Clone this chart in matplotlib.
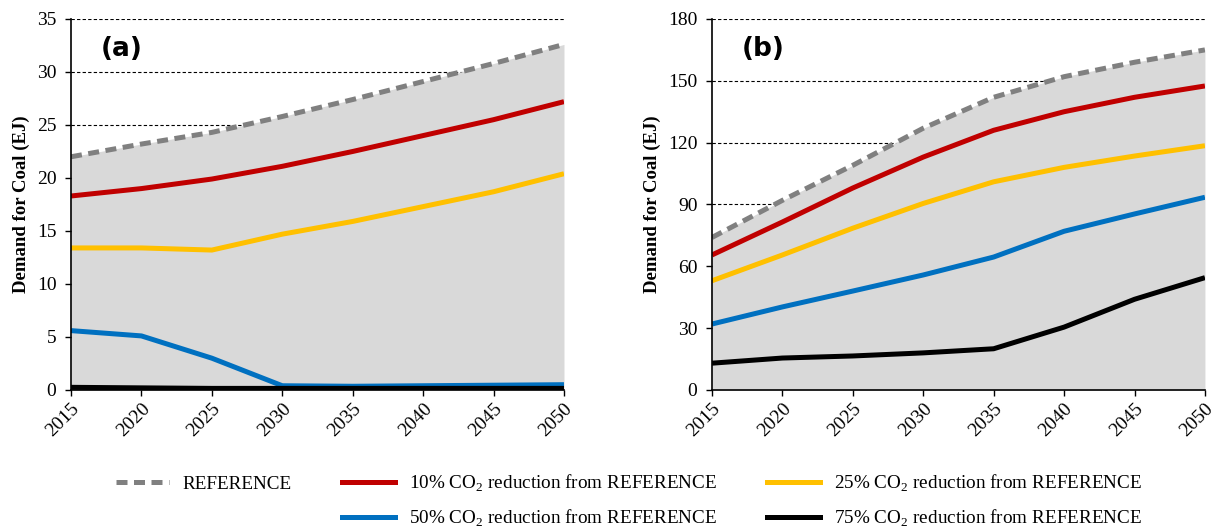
import matplotlib.pyplot as plt
from matplotlib.lines import Line2D

years = [2015, 2020, 2025, 2030, 2035, 2040, 2045, 2050]

# panel (a)
a_ref = [22.0, 23.2, 24.3, 25.8, 27.4, 29.1, 30.8, 32.6]
a_10 = [18.3, 19.0, 19.9, 21.1, 22.5, 24.0, 25.5, 27.2]
a_25 = [13.4, 13.4, 13.2, 14.7, 15.9, 17.3, 18.7, 20.4]
a_50 = [5.6, 5.1, 3.0, 0.4, 0.35, 0.4, 0.45, 0.5]
a_75 = [0.25, 0.2, 0.15, 0.15, 0.15, 0.15, 0.15, 0.15]

# panel (b)
b_ref = [74, 92, 109, 127, 142, 152, 159, 165]
b_10 = [65.5, 81.5, 98, 113, 126, 135, 142, 147.5]
b_25 = [53, 65.5, 78.5, 90.5, 101, 108, 113.5, 118.5]
b_50 = [32, 40.3, 48, 55.8, 64.5, 77, 85.4, 93.5]
b_75 = [13, 15.5, 16.5, 18, 20, 30.5, 44, 54.5]

labels = ["REFERENCE",
          "10% CO$_2$ reduction from REFERENCE",
          "25% CO$_2$ reduction from REFERENCE",
          "50% CO$_2$ reduction from REFERENCE",
          "75% CO$_2$ reduction from REFERENCE"]
colors = ["#808080", "#C00000", "#FFC000", "#0070C0", "#000000"]

plt.rcParams["font.family"] = "Liberation Serif"
plt.rcParams["mathtext.fontset"] = "custom"
plt.rcParams["mathtext.rm"] = "Liberation Serif"

fig = plt.figure(figsize=(12.16, 5.27), dpi=100)
ax1 = fig.add_axes([0.0584, 0.26, 0.4054, 0.704])
ax2 = fig.add_axes([0.5855, 0.26, 0.4054, 0.704])


def draw(ax, series, ymax, step, tag):
    ref = series[0]
    ax.fill_between(years, 0, ref, color="#D9D9D9", zorder=1, lw=0)
    for i, (vals, c) in enumerate(zip(series, colors)):
        ls = (0, (2.2, 1.3)) if i == 0 else "-"
        ax.plot(years, vals, color=c, lw=3.6, ls=ls, zorder=3 + i,
                solid_capstyle="butt")
    ax.set_xlim(2015, 2050)
    ax.set_ylim(0, ymax)
    ax.set_xticks(years)
    ax.set_xticklabels([str(y) for y in years], rotation=45, ha="right",
                       rotation_mode="anchor")
    ax.set_yticks(range(0, ymax + 1, step))
    for t in range(step, ymax + 1, step):
        ax.axhline(t, color="black", lw=0.8, ls=(0, (3, 2)), zorder=0.5)
    ax.tick_params(labelsize=14, length=4.5, width=1, direction="out")
    ax.tick_params(axis="y", pad=6)
    ax.tick_params(axis="x", pad=3)
    for s in ["top", "right"]:
        ax.spines[s].set_visible(False)
    for s in ["left", "bottom"]:
        ax.spines[s].set_linewidth(1.2)
        ax.spines[s].set_zorder(10)
    ax.set_ylabel("Demand for Coal (EJ)", fontsize=13.5, fontweight="bold",
                  labelpad=5)
    ax.text(0.06, 0.92, tag, transform=ax.transAxes, fontsize=19,
            fontweight="bold", family="DejaVu Sans", va="center")


draw(ax1, [a_ref, a_10, a_25, a_50, a_75], 35, 5, "(a)")
draw(ax2, [b_ref, b_10, b_25, b_50, b_75], 180, 30, "(b)")

handles = [Line2D([], [], color=c, lw=3.6,
                  ls=(0, (2.2, 1.3)) if i == 0 else "-")
           for i, c in enumerate(colors)]
blank = Line2D([], [], color="none")
# column-wise fill: REFERENCE alone in the first column
order_h = [handles[0], blank, handles[1], handles[3], handles[2], handles[4]]
order_l = [labels[0], "", labels[1], labels[3], labels[2], labels[4]]
fig.legend(order_h, order_l, ncol=3, loc="lower center",
           bbox_to_anchor=(0.517, -0.036), frameon=False, fontsize=13.8,
           handlelength=2.8, columnspacing=2.6, labelspacing=0.7,
           handletextpad=0.7)

fig.savefig("out.png", dpi=100)
